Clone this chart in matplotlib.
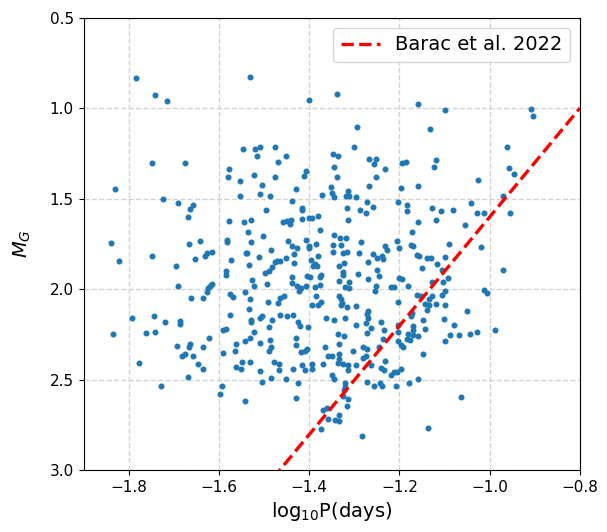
import numpy as np
import matplotlib.pyplot as plt

# log10 period (days) and absolute G magnitude
log_p = [
    -1.784, -1.742, -1.714, -1.749, -1.676, -1.830,
    -1.531, -1.401, -1.547, -1.520, -1.509, -1.475, -1.516, -1.452, -1.469, -1.578, -1.406, -1.579,
    -1.522, -1.475, -1.412, -1.554, -1.504, -1.429, -1.553, -1.509, -1.487,
    -1.338, -1.159, -1.293, -1.132, -1.300, -1.347, -1.337, -1.268, -1.253, -1.257, -1.346, -1.231,
    -1.195, -1.185, -1.339, -1.252, -1.351, -1.267, -1.197, -1.158, -1.371, -1.349, -1.314, -1.319,
    -1.312, -1.296, -1.345,
    -1.098, -0.909, -0.905, -0.962, -1.119, -1.123, -0.958, -0.947, -1.026, -0.970,
    -1.723, -1.690, -1.657, -1.664, -1.669, -1.839, -1.667, -1.641, -1.822, -1.749, -1.653, -1.695,
    -1.690, -1.661, -1.636, -1.793, -1.743, -1.719, -1.687, -1.687,
    -1.439, -1.495, -1.417, -1.417, -1.578, -1.544, -1.529, -1.458, -1.449, -1.441, -1.443, -1.417,
    -1.400, -1.393, -1.535, -1.503, -1.582, -1.582, -1.529, -1.447, -1.408, -1.438, -1.426, -1.400,
    -1.400, -1.485, -1.541, -1.537, -1.631, -1.626, -1.616, -1.511, -1.433, -1.452, -1.475, -1.471,
    -1.465, -1.573, -1.396, -1.434, -1.533, -1.483, -1.391, -1.497, -1.490, -1.584, -1.584, -1.438,
    -1.405, -1.399, -1.526, -1.616, -1.619, -1.624, -1.522, -1.494, -1.437, -1.426, -1.418, -1.406,
    -1.422, -1.627, -1.575, -1.568, -1.542, -1.532, -1.492, -1.465, -1.468, -1.455, -1.393, -1.534,
    -1.576, -1.465, -1.449, -1.436, -1.504, -1.508, -1.528, -1.530, -1.483, -1.425, -1.421, -1.585,
    -1.590, -1.489, -1.402,
    -1.272, -1.259, -1.203, -1.184, -1.184, -1.317, -1.288, -1.275, -1.380, -1.315, -1.376, -1.158,
    -1.172, -1.346, -1.332, -1.319, -1.286, -1.205, -1.385, -1.347, -1.329, -1.174, -1.170, -1.233,
    -1.227, -1.200, -1.347, -1.326, -1.316, -1.290, -1.259, -1.249, -1.238, -1.236, -1.162, -1.157,
    -1.139, -1.381, -1.269, -1.322, -1.334, -1.387, -1.382, -1.150, -1.249, -1.326, -1.326, -1.291,
    -1.373, -1.376, -1.245, -1.202, -1.194, -1.269, -1.334, -1.376, -1.321, -1.311, -1.311, -1.251,
    -1.254, -1.218, -1.213, -1.181, -1.387, -1.162, -1.153, -1.384, -1.334, -1.330, -1.328, -1.330,
    -1.373, -1.380, -1.316, -1.296, -1.203, -1.135, -1.144, -1.269, -1.273, -1.362, -1.345, -1.321,
    -1.269, -1.275, -1.297, -1.263, -1.241, -1.235, -1.173, -1.175, -1.170, -1.171, -1.203, -1.147,
    -1.140, -1.135, -1.144,
    -1.041, -1.128, -1.108, -1.082, -1.118, -1.029, -1.013, -0.955, -1.054, -1.091, -1.020, -1.131,
    -1.100, -1.116, -1.105, -0.970, -1.093, -1.103, -1.129, -1.013, -1.007, -1.100, -1.105, -1.128,
    -1.120, -1.100, -1.051, -1.102, -1.080, -0.988,
    -1.835, -1.761, -1.742, -1.692, -1.664, -1.666, -1.777, -1.681, -1.676, -1.658, -1.647, -1.669,
    -1.729,
    -1.621, -1.522, -1.636, -1.542, -1.531, -1.562, -1.510, -1.486, -1.485, -1.490, -1.591, -1.565,
    -1.430, -1.430, -1.418, -1.409, -1.405, -1.548, -1.531, -1.562, -1.551, -1.477, -1.466, -1.467,
    -1.509, -1.435, -1.416, -1.410, -1.394, -1.394, -1.504, -1.485, -1.452, -1.424, -1.636, -1.593,
    -1.597, -1.542, -1.429,
    -1.337, -1.322, -1.273, -1.203, -1.181, -1.170, -1.184, -1.177, -1.158, -1.204, -1.366, -1.334,
    -1.359, -1.349, -1.370, -1.335, -1.334, -1.336, -1.324, -1.313, -1.314, -1.297, -1.302, -1.280,
    -1.272, -1.275, -1.280, -1.264, -1.246, -1.237, -1.233, -1.241, -1.234, -1.193, -1.197, -1.147,
    -1.349, -1.345, -1.320, -1.320, -1.323, -1.271, -1.257, -1.242, -1.238, -1.219, -1.213, -1.206,
    -1.196, -1.207, -1.179, -1.159, -1.324, -1.315, -1.316, -1.369, -1.361, -1.334, -1.342, -1.334,
    -1.359, -1.373, -1.284, -1.136,
    -1.100, -1.088, -1.067, -1.043, -1.029, -1.063,
]
m_g = [
    0.834, 0.928, 0.961, 1.302, 1.300, 1.444,
    0.825, 0.956, 1.223, 1.223, 1.215, 1.212, 1.265, 1.263, 1.295, 1.335, 1.344, 1.378,
    1.370, 1.379, 1.372, 1.400, 1.422, 1.446, 1.486, 1.473, 1.482,
    0.923, 0.974, 1.105, 1.112, 1.214, 1.254, 1.265, 1.282, 1.280, 1.308, 1.324, 1.333,
    1.300, 1.298, 1.379, 1.377, 1.433, 1.429, 1.438, 1.427, 1.481, 1.470, 1.459, 1.482,
    1.482, 1.490, 1.490,
    1.011, 1.005, 1.040, 1.215, 1.285, 1.324, 1.328, 1.361, 1.398, 1.482,
    1.501, 1.523, 1.532, 1.558, 1.598, 1.742, 1.749, 1.736, 1.843, 1.818, 1.834, 1.873,
    1.985, 2.051, 2.048, 2.160, 2.147, 2.182, 2.175, 2.191,
    1.514, 1.560, 1.549, 1.562, 1.624, 1.628, 1.620, 1.631, 1.624, 1.620, 1.641, 1.611,
    1.608, 1.606, 1.685, 1.705, 1.727, 1.737, 1.737, 1.731, 1.727, 1.760, 1.773, 1.762,
    1.773, 1.781, 1.797, 1.797, 1.814, 1.799, 1.795, 1.823, 1.808, 1.829, 1.849, 1.843,
    1.845, 1.841, 1.836, 1.854, 1.867, 1.877, 1.873, 1.910, 1.902, 1.902, 1.921, 1.932,
    1.928, 1.930, 1.947, 1.969, 1.983, 1.994, 1.980, 1.970, 1.967, 1.985, 1.994, 1.983,
    2.011, 2.016, 2.028, 2.044, 2.017, 2.055, 2.068, 2.050, 2.075, 2.039, 2.087, 2.109,
    2.144, 2.140, 2.147, 2.140, 2.149, 2.160, 2.168, 2.179, 2.171, 2.182, 2.201, 2.219,
    2.226, 2.210, 2.210,
    1.519, 1.547, 1.519, 1.534, 1.569, 1.552, 1.562, 1.576, 1.593, 1.617, 1.670, 1.630,
    1.681, 1.702, 1.718, 1.718, 1.737, 1.733, 1.749, 1.757, 1.757, 1.755, 1.759, 1.762,
    1.781, 1.772, 1.796, 1.801, 1.792, 1.801, 1.803, 1.825, 1.818, 1.832, 1.810, 1.819,
    1.827, 1.814, 1.851, 1.854, 1.869, 1.860, 1.873, 1.882, 1.893, 1.906, 1.924, 1.917,
    1.921, 1.935, 1.926, 1.937, 1.943, 1.945, 1.956, 1.976, 1.989, 1.994, 1.959, 1.980,
    2.009, 1.987, 1.987, 1.985, 1.989, 2.031, 2.035, 2.040, 2.039, 2.055, 2.075, 2.090,
    2.072, 2.090, 2.096, 2.092, 2.068, 2.053, 2.081, 2.123, 2.136, 2.160, 2.173, 2.158,
    2.160, 2.188, 2.199, 2.215, 2.180, 2.225, 2.133, 2.147, 2.201, 2.228, 2.197, 2.169,
    2.114, 2.090, 2.219,
    1.523, 1.550, 1.569, 1.560, 1.619, 1.580, 1.580, 1.580, 1.644, 1.749, 1.768, 1.829,
    1.823, 1.858, 1.893, 1.893, 1.939, 1.958, 1.958, 2.002, 2.022, 2.009, 2.031, 2.035,
    2.083, 2.085, 2.122, 2.164, 2.199, 2.227,
    2.247, 2.241, 2.234, 2.313, 2.302, 2.320, 2.407, 2.370, 2.361, 2.368, 2.414, 2.488,
    2.534,
    2.269, 2.234, 2.320, 2.285, 2.271, 2.304, 2.295, 2.280, 2.317, 2.341, 2.355, 2.344,
    2.271, 2.311, 2.348, 2.339, 2.328, 2.401, 2.405, 2.429, 2.444, 2.405, 2.412, 2.446,
    2.453, 2.444, 2.420, 2.447, 2.414, 2.444, 2.514, 2.493, 2.499, 2.519, 2.444, 2.538,
    2.580, 2.617, 2.604,
    2.247, 2.260, 2.243, 2.237, 2.247, 2.254, 2.274, 2.280, 2.261, 2.289, 2.320, 2.302,
    2.370, 2.370, 2.412, 2.361, 2.385, 2.407, 2.416, 2.418, 2.449, 2.420, 2.339, 2.320,
    2.333, 2.372, 2.381, 2.418, 2.320, 2.278, 2.399, 2.434, 2.446, 2.320, 2.311, 2.361,
    2.477, 2.497, 2.517, 2.541, 2.556, 2.514, 2.538, 2.517, 2.536, 2.473, 2.457, 2.457,
    2.442, 2.534, 2.516, 2.497, 2.593, 2.606, 2.648, 2.667, 2.657, 2.698, 2.722, 2.727,
    2.716, 2.775, 2.814, 2.768,
    2.289, 2.252, 2.252, 2.248, 2.239, 2.598,
]

# Barac et al. 2022 period-luminosity relation
pl_slope = -3.01
pl_zp = -1.41

fig, ax = plt.subplots(figsize=(6.07, 5.32), dpi=100)
fig.subplots_adjust(left=0.1376, right=0.9555, bottom=0.1165, top=0.9662)

ax.scatter(log_p, m_g, s=11, color='tab:blue', zorder=2)

xx = np.linspace(-1.9, -0.8, 50)
ax.plot(xx, pl_slope * xx + pl_zp, 'r--', lw=2.4, label='Barac et al. 2022', zorder=3)

ax.set_xlim(-1.9, -0.8)
ax.set_ylim(3.0, 0.5)
ax.set_xticks(np.arange(-1.8, -0.79, 0.2))
ax.set_yticks(np.arange(0.5, 3.01, 0.5))
ax.tick_params(labelsize=11)
ax.grid(ls='--', color='lightgray', lw=1)
ax.set_axisbelow(True)

ax.set_xlabel(r'log$_{10}$P(days)', fontsize=14)
ax.set_ylabel(r'$M_G$', fontsize=14, labelpad=12)
ax.legend(loc='upper right', fontsize=14)

fig.savefig('out.png')
